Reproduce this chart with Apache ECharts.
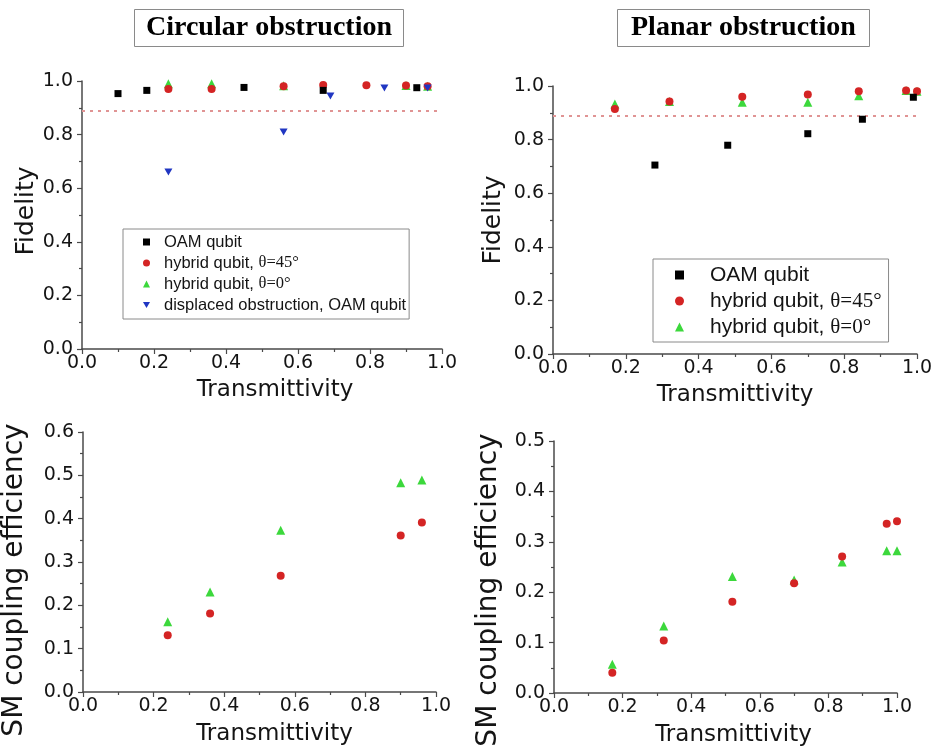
<!DOCTYPE html>
<html>
<head>
<meta charset="utf-8">
<title>Fidelity and SM coupling efficiency vs transmittivity</title>
<script src="https://cdn.jsdelivr.net/npm/echarts@6/dist/echarts.min.js"></script>
<style>
    html, body { margin: 0; padding: 0; background: #ffffff; }
    #chart { width: 936px; height: 754px; }
</style>
</head>
<body>
<div id="chart"></div>
<script>
// circular obstruction, fidelity
var circOamT = [0.10, 0.18, 0.45, 0.67, 0.93];
var circOamFid = [0.953, 0.965, 0.976, 0.965, 0.975];
var circHyb45T = [0.24, 0.36, 0.56, 0.67, 0.79, 0.90, 0.96];
var circHyb45Fid = [0.970, 0.970, 0.980, 0.985, 0.984, 0.983, 0.980];
var circHyb0T = [0.24, 0.36, 0.56, 0.90, 0.96];
var circHyb0Fid = [0.990, 0.990, 0.982, 0.983, 0.980];
var circDispT = [0.24, 0.56, 0.69, 0.84, 0.96];
var circDispFid = [0.66, 0.81, 0.944, 0.974, 0.974];

// circular obstruction, SM coupling efficiency
var circCoupT = [0.24, 0.36, 0.56, 0.90, 0.96];
var circCoup45 = [0.131, 0.181, 0.268, 0.361, 0.391];
var circCoup0 = [0.162, 0.231, 0.373, 0.483, 0.489];

// planar obstruction, fidelity
var planOamT = [0.28, 0.48, 0.70, 0.85, 0.99];
var planOamFid = [0.705, 0.779, 0.822, 0.876, 0.958];
var planHybT = [0.17, 0.32, 0.52, 0.70, 0.84, 0.97, 1.00];
var planHyb45Fid = [0.914, 0.942, 0.960, 0.968, 0.980, 0.983, 0.980];
var planHyb0Fid = [0.933, 0.942, 0.939, 0.939, 0.964, 0.983, 0.980];

// planar obstruction, SM coupling efficiency
var planCoup45 = [0.040, 0.104, 0.181, 0.218, 0.271, 0.336, 0.341];
var planCoup0 = [0.057, 0.133, 0.231, 0.224, 0.260, 0.282, 0.282];

var fidelityLimit = 0.89;

var names = {
    oam: 'OAM qubit',
    h45: 'hybrid qubit, θ=45°',
    h0: 'hybrid qubit, θ=0°',
    disp: 'displaced obstruction, OAM qubit'
};

var font = 'DejaVu Sans';
var ink = '#141414';
var axisColor = '#4a4a4a';

var markers = {
    oam: {symbol: 'rect', size: 7, color: '#000000', z: 5},
    h45: {symbol: 'circle', size: 8, color: '#d42424', z: 3},
    h0: {symbol: 'triangle', size: 9, color: '#3cd83c', z: 2},
    disp: {symbol: 'path://M0,0L2,0L1,1.7Z', size: [8, 7], color: '#2036c2', z: 4}
};

function pairs(xs, ys) {
    return xs.map(function (x, i) {
        return [x, ys[i]];
    });
}

function scatter(key, grid, xs, ys) {
    var m = markers[key];
    return {
        name: names[key],
        type: 'scatter',
        xAxisIndex: grid,
        yAxisIndex: grid,
        symbol: m.symbol,
        symbolSize: m.size,
        z: m.z,
        itemStyle: {color: m.color, opacity: 1},
        data: pairs(xs, ys)
    };
}

// red dotted limit line
function limitLine() {
    return {
        silent: true,
        symbol: 'none',
        label: {show: false},
        lineStyle: {color: '#e09494', type: [3, 5], width: 2},
        data: [{yAxis: fidelityLimit}]
    };
}

function fmt(v) {
    return v.toFixed(1);
}

var tickStyle = {color: axisColor, width: 1.2};

function makeXAxis(grid, gap, shift) {
    return {
        type: 'value',
        gridIndex: grid,
        min: 0,
        max: 1,
        interval: 0.2,
        name: 'Transmittivity',
        nameLocation: 'middle',
        nameGap: gap,
        nameTextStyle: {fontFamily: font, fontSize: 23, color: ink, padding: [0, 0, 0, shift * 2]},
        axisLine: {onZero: false, lineStyle: {color: axisColor, width: 1.5}},
        axisTick: {length: 5, lineStyle: tickStyle},
        minorTick: {show: true, splitNumber: 2, length: 3, lineStyle: tickStyle},
        splitLine: {show: false},
        axisLabel: {fontFamily: font, fontSize: 19, color: ink, margin: 5, formatter: fmt}
    };
}

function makeYAxis(grid, name, max, interval, gap, size, padding) {
    return {
        type: 'value',
        gridIndex: grid,
        min: 0,
        max: max,
        interval: interval,
        name: name,
        nameLocation: 'middle',
        nameGap: gap,
        nameTextStyle: {fontFamily: font, fontSize: size, color: ink, padding: padding},
        axisLine: {show: true, onZero: false, lineStyle: {color: axisColor, width: 1.5}},
        axisTick: {show: true, length: 5, lineStyle: tickStyle},
        minorTick: {show: true, splitNumber: 2, length: 3, lineStyle: tickStyle},
        splitLine: {show: false},
        axisLabel: {fontFamily: font, fontSize: 19, color: ink, margin: 9, formatter: fmt}
    };
}

// θ part is set in a serif face like the original
function legendLabel(name) {
    var k = name.indexOf('θ');
    if (k < 0) {
        return name;
    }
    return name.slice(0, k) + '{g|' + name.slice(k) + '}';
}

function makeLegend(keys, left, topPx, fontSize, icon, textPad, padding, lineHeight, gap) {
    return {
        orient: 'vertical',
        left: left,
        top: topPx,
        padding: padding,
        itemGap: gap,
        itemWidth: icon,
        itemHeight: icon,
        borderColor: '#8a8a8a',
        borderWidth: 1,
        backgroundColor: '#ffffff',
        selectedMode: false,
        formatter: legendLabel,
        textStyle: {
            fontFamily: 'Liberation Sans',
            fontSize: fontSize,
            color: ink,
            lineHeight: lineHeight,
            padding: [0, 0, 0, textPad],
            rich: {
                g: {fontFamily: 'Liberation Serif', fontSize: fontSize, color: ink, lineHeight: lineHeight}
            }
        },
        data: keys.map(function (k) {
            return {name: names[k], icon: markers[k].symbol};
        })
    };
}

function titleBox(text, left, padX) {
    return {
        text: text,
        left: left,
        top: 9,
        padding: [5, padX],
        borderColor: '#8a8a8a',
        borderWidth: 1,
        textStyle: {fontFamily: 'Liberation Serif', fontWeight: 'bold', fontSize: 28, color: '#000000', lineHeight: 28}
    };
}

var oamCirc = scatter('oam', 0, circOamT, circOamFid);
oamCirc.markLine = limitLine();
var oamPlan = scatter('oam', 1, planOamT, planOamFid);
oamPlan.markLine = limitLine();

var option = {
    animation: false,
    backgroundColor: '#ffffff',
    title: [
        titleBox('Circular obstruction', 134, 12),
        titleBox('Planar obstruction', 617, 14)
    ],
    legend: [
        makeLegend(['oam', 'h45', 'h0', 'disp'], 123, 229, 16.5, 7, 9, [4, 3, 5, 20], 18, 3),
        makeLegend(['oam', 'h45', 'h0'], 653, 259, 21, 9, 21, [5, 7, 4, 22], 22, 4)
    ],
    grid: [
        {left: 82, top: 81, width: 360, height: 268, outerBoundsMode: 'none'},
        {left: 553, top: 86, width: 364, height: 268, outerBoundsMode: 'none'},
        {left: 83, top: 432, width: 353, height: 260, outerBoundsMode: 'none'},
        {left: 554, top: 441, width: 343, height: 252, outerBoundsMode: 'none'}
    ],
    xAxis: [
        makeXAxis(0, 30, 13),
        makeXAxis(1, 30, 0),
        makeXAxis(2, 31, 15),
        makeXAxis(3, 31, 8)
    ],
    yAxis: [
        makeYAxis(0, 'Fidelity', 1, 0.2, 42, 25, [0, 0, 0, 8]),
        makeYAxis(1, 'Fidelity', 1, 0.2, 47, 25, [0, 0, 0, 0]),
        makeYAxis(2, 'SM coupling efficiency', 0.6, 0.1, 54, 28, [0, 36, 0, 0]),
        makeYAxis(3, 'SM coupling efficiency', 0.5, 0.1, 51, 28, [0, 46, 0, 0])
    ],
    series: [
        oamCirc,
        scatter('h45', 0, circHyb45T, circHyb45Fid),
        scatter('h0', 0, circHyb0T, circHyb0Fid),
        scatter('disp', 0, circDispT, circDispFid),
        oamPlan,
        scatter('h45', 1, planHybT, planHyb45Fid),
        scatter('h0', 1, planHybT, planHyb0Fid),
        scatter('h45', 2, circCoupT, circCoup45),
        scatter('h0', 2, circCoupT, circCoup0),
        scatter('h45', 3, planHybT, planCoup45),
        scatter('h0', 3, planHybT, planCoup0)
    ]
};

var myChart = echarts.init(document.getElementById('chart'));
myChart.setOption(option);
</script>
</body>
</html>
